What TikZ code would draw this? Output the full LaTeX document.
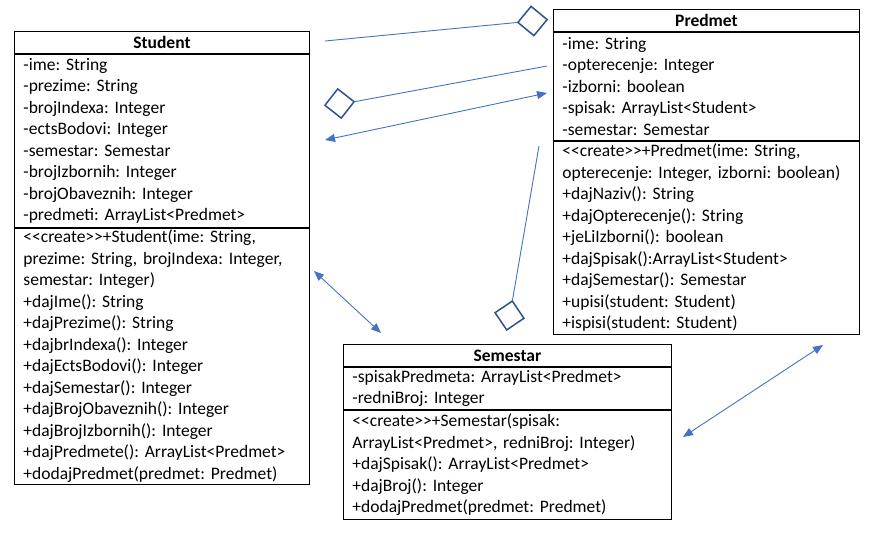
\documentclass[tikz,border=0pt]{standalone}
\usepackage{fontspec}
\setmainfont{Carlito}
\usepackage{tikz}
\usetikzlibrary{arrows.meta,positioning,shapes.geometric}

\definecolor{linkblue}{HTML}{4472C4}
\definecolor{aggblue}{HTML}{2F528F}
\frenchspacing

\begin{document}
\begin{tikzpicture}[x=1pt, y=-1pt]
  \tikzstyle{cls} = [rectangle, draw=black, line width=0.9pt, inner xsep=9pt, inner ysep=0pt,
                     align=left, font=\fontsize{17.5}{21.5}\selectfont]
  \tikzstyle{head} = [cls, align=center, minimum height=22pt, font=\fontsize{17.5}{21.5}\selectfont\bfseries]
  \tikzstyle{link} = [draw=linkblue, line width=0.9pt]
  \tikzstyle{both} = [link, {Triangle[length=10pt,width=8pt]}-{Triangle[length=10pt,width=8pt]}]
  \tikzstyle{agg} = [diamond, draw=aggblue, line width=1.5pt, fill=white, minimum size=30pt, inner sep=0pt]
  \useasboundingbox (0,0) rectangle (886,536);

  \node[head, text width=277pt, anchor=north west] (student) at (14,31) {Student};
  \node[cls, text width=277pt, minimum height=173pt, below=0pt of student] (studentattr)
    {-ime: String\\ -prezime: String\\ -brojIndexa: Integer\\ -ectsBodovi: Integer\\
     -semestar: Semestar\\ -brojIzbornih: Integer\\ -brojObaveznih: Integer\\
     -predmeti: ArrayList<Predmet>};
  \node[cls, text width=277pt, minimum height=256pt, below=0pt of studentattr] (studentops)
    {<{}<create>{}>+Student(ime: String,\\ prezime: String, brojIndexa: Integer,\\ semestar: Integer)\\
     +dajIme(): String\\ +dajPrezime(): String\\ +dajbrIndexa(): Integer\\ +dajEctsBodovi(): Integer\\
     +dajSemestar(): Integer\\ +dajBrojObaveznih(): Integer\\ +dajBrojIzbornih(): Integer\\
     +dajPredmete(): ArrayList<Predmet>\\ +dodajPredmet(predmet: Predmet)};

  \node[head, text width=288pt, anchor=north west] (predmet) at (553,9) {Predmet};
  \node[cls, text width=288pt, minimum height=108pt, below=0pt of predmet] (predmetattr)
    {-ime: String\\ -opterecenje: Integer\\ -izborni: boolean\\ -spisak: ArrayList<Student>\\
     -semestar: Semestar};
  \node[cls, text width=288pt, minimum height=193pt, below=0pt of predmetattr] (predmetops)
    {<{}<create>{}>+Predmet(ime: String,\\ opterecenje: Integer, izborni: boolean)\\
     +dajNaziv(): String\\ +dajOpterecenje(): String\\ +jeLiIzborni(): boolean\\
     +dajSpisak():ArrayList<Student>\\ +dajSemestar(): Semestar\\ +upisi(student: Student)\\
     +ispisi(student: Student)};

  \node[head, text width=310pt, anchor=north west] (semestar) at (343,344) {Semestar};
  \node[cls, text width=310pt, minimum height=42pt, below=0pt of semestar] (semestarattr)
    {-spisakPredmeta: ArrayList<Predmet>\\ -redniBroj: Integer};
  \node[cls, text width=310pt, minimum height=109pt, below=0pt of semestarattr] (semestarops)
    {<{}<create>{}>+Semestar(spisak:\\ ArrayList<Predmet>, redniBroj: Integer)\\
     +dajSpisak(): ArrayList<Predmet>\\ +dajBroj(): Integer\\ +dodajPredmet(predmet: Predmet)};

  \node[agg, rotate=5.5] (agg1) at (532.5,21) {};
  \node[agg, rotate=7] (agg2) at (339.5,103.5) {};
  \node[agg, rotate=-11] (agg3) at (509.5,315.5) {};

  \coordinate (end1) at (325,41);
  \coordinate (end2) at (547,66);
  \coordinate (end3) at (539,146);
  \coordinate (sp1) at (547,93);
  \coordinate (sp2) at (325,140);
  \coordinate (ss1) at (314,271);
  \coordinate (ss2) at (381,333);
  \coordinate (ps1) at (823,345);
  \coordinate (ps2) at (683,437);

  \draw[link] (agg1.west) -- (end1);
  \draw[link] (agg2.east) -- (end2);
  \draw[link] (agg3.north) -- (end3);
  \draw[both] (sp1) -- (sp2);
  \draw[both] (ss1) -- (ss2);
  \draw[both] (ps1) -- (ps2);
\end{tikzpicture}
\end{document}
